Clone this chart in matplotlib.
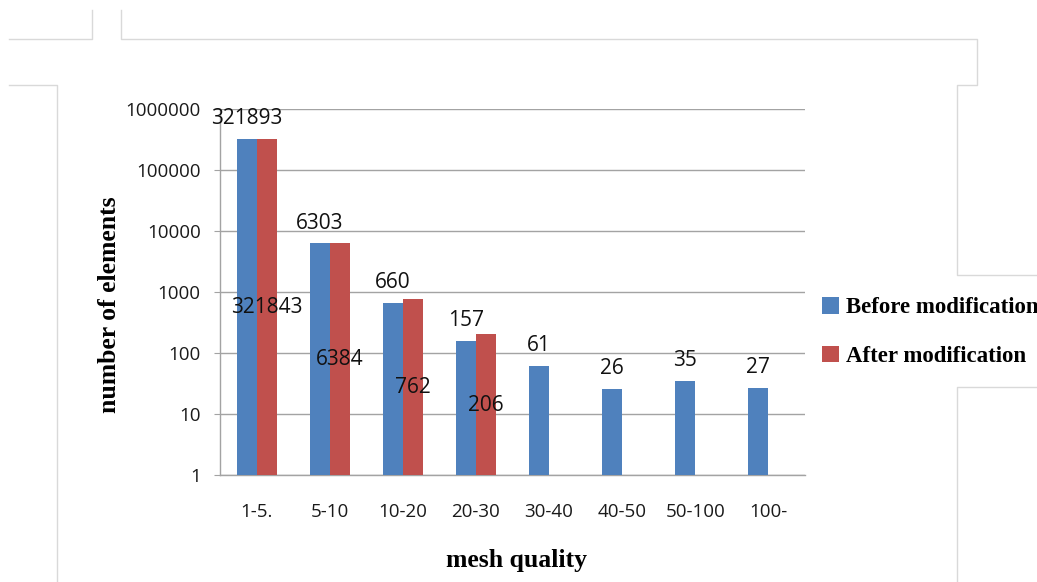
import numpy as np
import matplotlib
matplotlib.use("Agg")
import matplotlib.pyplot as plt
from matplotlib.lines import Line2D
from matplotlib.ticker import FixedLocator, FuncFormatter, NullLocator

# ---- data ----
categories = ["1-5.", "5-10", "10-20", "20-30", "30-40", "40-50", "50-100", "100-"]
before_mod = [321893, 6303, 660, 157, 61, 26, 35, 27]
after_mod = [321843, 6384, 762, 206]
y_ticks = [1, 10, 100, 1000, 10000, 100000, 1000000]

# vertical placement (data units) of the value labels for the second series
after_label_y = [558, 78, 27, 13.6]

BLUE = "#4F81BD"
RED = "#C0504D"
GRID = "#a3a3a3"
FRAME = "#d9d9d9"

W, H = 1037, 582
fig = plt.figure(figsize=(W / 100, H / 100), dpi=100)
fig.patch.set_facecolor("white")

ax = fig.add_axes([220 / W, 1 - 475 / H, 585 / W, 366 / H])

x = np.arange(len(categories))
bw = 0.274
b1 = ax.bar(x - bw / 2, before_mod, bw, color=BLUE, label="Before modification", zorder=3)
b2 = ax.bar(x[:len(after_mod)] + bw / 2, after_mod, bw, color=RED,
            label="After modification", zorder=3)

ax.set_yscale("log")
ax.set_ylim(1, 1000000)
ax.set_xlim(-0.5, len(categories) - 0.5)

ax.yaxis.set_major_locator(FixedLocator(y_ticks))
ax.yaxis.set_minor_locator(NullLocator())
ax.yaxis.set_major_formatter(FuncFormatter(lambda v, p: f"{int(round(v))}"))
ax.set_xticks(x)
ax.set_xticklabels(categories)

tick_font = dict(family=["Open Sans", "DejaVu Sans"], size=13.5)
for lab in ax.get_yticklabels() + ax.get_xticklabels():
    lab.set_fontfamily(tick_font["family"])
    lab.set_fontsize(tick_font["size"])
    lab.set_color("#1a1a1a")

ax.tick_params(axis="y", length=4, width=0.8, color=GRID, pad=10)
ax.tick_params(axis="x", length=0, pad=20)

ax.grid(axis="y", color=GRID, linewidth=1.0, zorder=0)
for side in ["top", "right"]:
    ax.spines[side].set_visible(False)
ax.spines["left"].set_color(GRID)
ax.spines["bottom"].set_color(GRID)
ax.spines["left"].set_linewidth(1.0)
ax.spines["bottom"].set_linewidth(1.0)

label_font = dict(family=["Open Sans", "DejaVu Sans"], size=15, color="#111111")
for xi, v in zip(x, before_mod):
    ax.annotate(f"{v}", (xi - bw / 2, v), xytext=(0, 14.5), textcoords="offset points",
                ha="center", va="center", zorder=4, **label_font)
for xi, v, ly in zip(x, after_mod, after_label_y):
    ax.text(xi + bw / 2, ly, f"{v}", ha="center", va="center", zorder=4, **label_font)

serif_bold = dict(family=["Liberation Serif", "DejaVu Serif"], weight="bold", color="black")
fig.text(110 / W, 1 - 305 / H, "number of elements", rotation=90, ha="center", va="center",
         size=18.5, **serif_bold)
fig.text(517 / W, 1 - 561 / H, "mesh quality", ha="center", va="center", size=18.5, **serif_bold)

leg = fig.legend(handles=[b1, b2], labels=["Before modification", "After modification"],
                 loc="center left", bbox_to_anchor=(822 / W, 1 - 332 / H),
                 frameon=False, handlelength=0.74, handleheight=0.74,
                 handletextpad=0.3, labelspacing=1.18, borderaxespad=0, borderpad=0,
                 prop=dict(family="Liberation Serif", weight="bold", size=16.5))

# light page-frame strokes around the figure
frame_paths = [
    [(9, 39), (92, 39), (92, 10)],
    [(121, 10), (121, 39), (977, 39), (977, 85), (957, 85), (957, 275), (1037, 275)],
    [(9, 85), (57, 85), (57, 582)],
    [(1037, 387), (957, 387), (957, 582)],
]
for path in frame_paths:
    xs = [p[0] / W for p in path]
    ys = [1 - p[1] / H for p in path]
    fig.add_artist(Line2D(xs, ys, color=FRAME, linewidth=1.0, transform=fig.transFigure))

fig.savefig("out.png", dpi=100, facecolor="white")
